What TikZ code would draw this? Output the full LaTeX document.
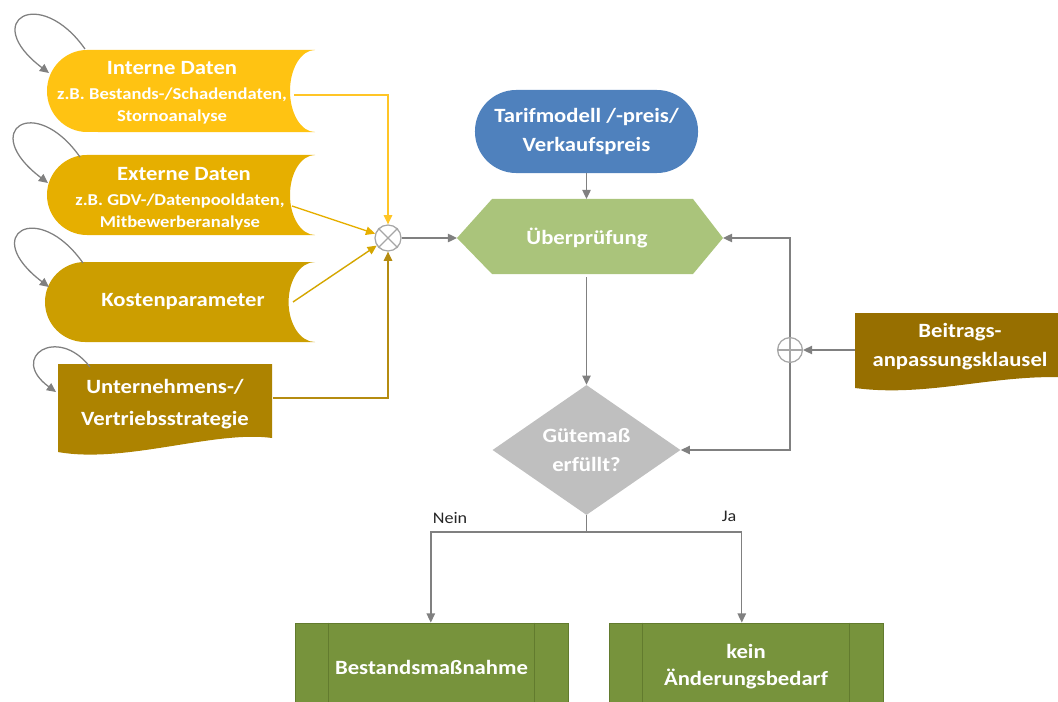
\documentclass[tikz,border=0pt]{standalone}
\usepackage{fontspec}
\setmainfont[FakeStretch=1.12]{Carlito}
\usetikzlibrary{arrows.meta,shapes.geometric,calc}
\definecolor{cIntern}{HTML}{FFC312}
\definecolor{cExtern}{HTML}{E6AF00}
\definecolor{cKosten}{HTML}{CC9E00}
\definecolor{cUntern}{HTML}{AD8300}
\definecolor{cBeitrag}{HTML}{976F00}
\definecolor{cBlue}{HTML}{4F81BD}
\definecolor{cHex}{HTML}{AAC47B}
\definecolor{cDia}{HTML}{BFBFBF}
\definecolor{cBox}{HTML}{77933C}
\definecolor{cBoxLine}{HTML}{627B2E}
\definecolor{cLine}{HTML}{808080}
\definecolor{cCirc}{HTML}{A6A6A6}
\definecolor{aIntern}{HTML}{FFC526}
\definecolor{aExtern}{HTML}{E6AF00}
\definecolor{aKosten}{HTML}{D4A600}
\definecolor{aUntern}{HTML}{B58C10}
\begin{document}
\begin{tikzpicture}[x=0.025cm,y=0.025cm,
  tip/.style={-{Triangle[length=6.5pt,width=6pt]}},
  conn/.style={draw=cLine,line width=1pt,tip},
  yconn/.style={line width=1pt,tip},
  selfloop/.style={draw=cLine,line width=0.9pt,tip},
  ttl/.style={text=white,font=\bfseries\fontsize{14.4}{17}\selectfont,align=center,inner sep=0pt},
  sub/.style={text=white,font=\bfseries\fontsize{11.8}{15.6}\selectfont,align=center,inner sep=0pt},
  lbl/.style={text=black!85,font=\fontsize{11.5}{14}\selectfont,inner sep=0pt},
  boxnode/.style={rectangle,fill=cBox,draw=cBoxLine,line width=0.6pt,minimum width=6.825cm,minimum height=2.2cm,text=white,font=\bfseries\fontsize{14.4}{17.5}\selectfont,align=center,inner sep=0pt}]
\useasboundingbox (0,0) rectangle (1058,-702);
\clip (0,0) rectangle (1058,-702);

% stored data shapes
\fill[cIntern] (87,-50) -- (315,-50) arc[start angle=90,end angle=270,x radius=0.625cm,y radius=1.025cm] -- (87,-132) arc[start angle=270,end angle=90,x radius=1cm,y radius=1.025cm] -- cycle;
\fill[cExtern] (87,-155) -- (315,-155) arc[start angle=90,end angle=270,x radius=0.625cm,y radius=1.0cm] -- (87,-235) arc[start angle=270,end angle=90,x radius=1cm,y radius=1.0cm] -- cycle;
\fill[cKosten] (85,-262) -- (315,-262) arc[start angle=90,end angle=270,x radius=0.66cm,y radius=1.0cm] -- (85,-342) arc[start angle=270,end angle=90,x radius=1cm,y radius=1.0cm] -- cycle;
% document shapes
\fill[cUntern] (58,-364) -- (272,-364) -- (272,-438) .. controls (215,-430) and (125,-464) .. (58,-452) -- cycle;
\fill[cBeitrag] (855,-313) -- (1075,-313) -- (1075,-378) .. controls (1000,-372) and (930,-398) .. (855,-388) -- cycle;

% texts of left shapes
\node[ttl] (intT) at (172,-68) {Interne Daten};
\node[sub] (intS) at (172,-106) {z.B. Bestands-/Schadendaten,\\Stornoanalyse};
\node[ttl] (extT) at (184,-174) {Externe Daten};
\node[sub] (extS) at (180,-212) {z.B. GDV-/Datenpooldaten,\\Mitbewerberanalyse};
\node[ttl] (kost) at (183,-302) {Kostenparameter};
\node[ttl,font=\bfseries\fontsize{14.4}{22.7}\selectfont] (untern) at (165,-404) {Unternehmens-/\\Vertriebsstrategie};
\node[ttl,font=\bfseries\fontsize{14.4}{20.5}\selectfont] (beitrag) at (960,-347) {Beitrags-\\anpassungsklausel};

% self loops
\coordinate (l1s) at (85,-49);  \coordinate (l1e) at (49,-73);
\coordinate (l2s) at (80,-157); \coordinate (l2e) at (48,-183);
\coordinate (l3s) at (83,-263); \coordinate (l3e) at (49,-287);
\coordinate (l4s) at (90,-367); \coordinate (l4e) at (56,-392);
\draw[selfloop] (l1s) .. controls (40,15) and (-21,-20) .. (l1e);
\draw[selfloop] (l2s) .. controls (35,-93) and (-22,-130) .. (l2e);
\draw[selfloop] (l3s) .. controls (38,-199) and (-21,-234) .. (l3e);
\draw[selfloop] (l4s) .. controls (58,-325) and (8,-357) .. (l4e);

% combiner circles
\node[circle,draw=cCirc,fill=white,line width=0.9pt,minimum size=0.65cm,inner sep=0pt] (mul) at (388,-238) {};
\draw[cCirc,line width=0.9pt] (mul.north west) -- (mul.south east) (mul.north east) -- (mul.south west);
\node[circle,draw=cCirc,fill=white,line width=0.9pt,minimum size=0.62cm,inner sep=0pt] (add) at (790,-350) {};
\draw[cCirc,line width=0.9pt] (add.north) -- (add.south) (add.west) -- (add.east);

% Tarifmodell
\node[rectangle,rounded corners=1.03cm,fill=cBlue,minimum width=5.575cm,minimum height=2.075cm,text=white,font=\bfseries\fontsize{14.4}{21.3}\selectfont,align=center,inner sep=0pt] (tarif) at (586.5,-131.5) {Tarifmodell /-preis/\\Verkaufspreis};

% Ueberpruefung hexagon
\fill[cHex] (457,-238) -- (492,-199) -- (693,-199) -- (723,-238) -- (693,-274) -- (492,-274) -- cycle;
\node[ttl] (pruef) at (587,-238) {Überprüfung};
\coordinate (pruefW) at (457,-238);
\coordinate (pruefE) at (723,-238);
\coordinate (pruefN) at (586.5,-199);
\coordinate (pruefS) at (586.5,-277);

% diamond
\node[diamond,fill=cDia,minimum width=4.7cm,minimum height=3.25cm,aspect=1.45,inner sep=0pt,text=white,font=\bfseries\fontsize{14.4}{20.5}\selectfont,align=center] (guete) at (586.5,-450) {Gütemaß\\erfüllt?};

% result boxes
\node[boxnode] (b1) at (431.5,-667) {Bestandsmaßnahme};
\node[boxnode,minimum width=6.85cm,font=\bfseries\fontsize{14.4}{19.1}\selectfont] (b2) at (746,-667) {kein\\Änderungsbedarf};
\draw[cBoxLine,line width=0.6pt] ($(b1.north west)+(34,0)$) -- ++(0,-100) ($(b1.north east)+(-34,0)$) -- ++(0,-100);
\draw[cBoxLine,line width=0.6pt] ($(b2.north west)+(34,0)$) -- ++(0,-100) ($(b2.north east)+(-34,0)$) -- ++(0,-100);

% connectors from the inputs
\coordinate (intOut) at (294,-95);
\coordinate (extOut) at (292,-206);
\coordinate (kostOut) at (293,-302);
\coordinate (unternOut) at (273,-398);
\draw[yconn,aIntern] (intOut) -| (mul.north);
\draw[yconn,aExtern] (extOut) -- (mul);
\draw[yconn,aKosten] (kostOut) -- (mul);
\draw[yconn,aUntern] (unternOut) -| (mul.south);

% gray connectors
\draw[conn] (mul.east) -- (pruefW);
\draw[conn] (tarif.south) -- (pruefN);
\draw[conn] (pruefS) -- (guete.north);
\coordinate (beitW) at (855,-350);
\draw[conn] (beitW) -- (add.east);
\draw[conn] (add.north) |- (pruefE);
\draw[conn] (add.south) |- (guete.east);
\coordinate (split) at (586.5,-532);
\draw[draw=cLine,line width=1pt] (guete.south) -- (split);
\draw[conn] (split) -| ([xshift=-0.5]b1.north);
\draw[conn] (split) -| ([xshift=-3]b2.north);
\node[lbl] (nein) at (450,-518) {Nein};
\node[lbl] (ja) at (729,-516) {Ja};
\end{tikzpicture}
\end{document}
